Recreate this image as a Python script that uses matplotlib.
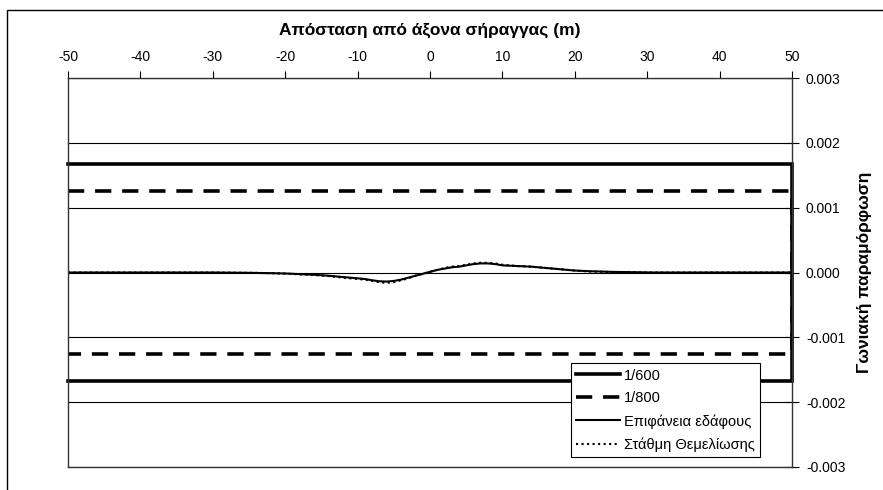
import matplotlib.pyplot as plt
from matplotlib.patches import Rectangle

plt.rcParams['font.family'] = ['Liberation Sans', 'DejaVu Sans']
plt.rcParams['axes.unicode_minus'] = False

# orio gwniakis paramorfwsis
lim_600 = 1 / 600
lim_800 = 1 / 800
box_x = [-50, 50, 50, -50]

# apostasi apo axona (m) kai gwniaki paramorfwsi (x1e-3)
x_surf = [-50, -40, -30, -25, -22, -20, -18, -16, -14, -12, -10, -9, -8, -7, -6, -5, -4, -3, -2, -1,
          0, 1, 2, 3, 4, 5, 6, 7, 8, 9, 10, 12, 14, 16, 18, 20, 22, 25, 28, 31, 35, 40, 50]
y_surf = [0, 0, 0, -0.005, -0.01, -0.015, -0.025, -0.035, -0.05, -0.07, -0.09, -0.1, -0.12, -0.135,
          -0.14, -0.13, -0.11, -0.08, -0.05, -0.02, 0.01, 0.04, 0.06, 0.08, 0.09, 0.11, 0.13, 0.14,
          0.14, 0.13, 0.11, 0.1, 0.09, 0.07, 0.05, 0.03, 0.02, 0.01, 0.005, 0, 0, 0, 0]
y_found = [0, 0, 0, -0.005, -0.01, -0.018, -0.028, -0.04, -0.055, -0.08, -0.1, -0.11, -0.13, -0.15,
           -0.16, -0.15, -0.12, -0.09, -0.05, -0.02, 0.01, 0.04, 0.07, 0.09, 0.1, 0.12, 0.14, 0.15,
           0.15, 0.14, 0.12, 0.1, 0.09, 0.07, 0.05, 0.03, 0.015, 0.008, 0.004, 0, 0, 0, 0]

fig = plt.figure(figsize=(8.83, 4.9), dpi=100)
ax = fig.add_axes([68 / 883, 1 - 467 / 490, 724 / 883, 389 / 490])

# plaisio ths eikonas
fig.patches.append(Rectangle((6.5 / 883, -0.1), 1.1, 1.1 - 10 / 490, transform=fig.transFigure,
                             fill=False, edgecolor='black', lw=1.0))

ax.plot(box_x, [lim_600, lim_600, -lim_600, -lim_600], color='black', lw=2.6, label='1/600',
        clip_on=False, solid_joinstyle='miter')
ax.plot(box_x, [lim_800, lim_800, -lim_800, -lim_800], color='black', lw=2.6, dashes=(4.5, 3),
        label='1/800')
ax.plot(x_surf, [v / 1000 for v in y_surf], color='black', lw=1.5, label='Επιφάνεια εδάφους')
ax.plot(x_surf, [v / 1000 for v in y_found], color='black', lw=1.5, ls=':',
        label='Στάθμη Θεμελίωσης')

ax.set_xlim(-50, 50)
ax.set_ylim(-0.003, 0.003)
ax.set_xticks(range(-50, 51, 10))
ax.set_yticks([-0.003, -0.002, -0.001, 0, 0.001, 0.002, 0.003])
ax.set_yticklabels(['-0.003', '-0.002', '-0.001', '0.000', '0.001', '0.002', '0.003'])
ax.grid(axis='y', color='black', lw=0.8)
ax.set_axisbelow(True)

ax.xaxis.tick_top()
ax.xaxis.set_label_position('top')
ax.yaxis.tick_right()
ax.yaxis.set_label_position('right')
ax.tick_params(axis='x', direction='out', length=5, width=0.8, labelsize=10, pad=5)
ax.tick_params(axis='y', direction='inout', length=10, width=0.8, labelsize=10, pad=5)
for s in ax.spines.values():
    s.set_linewidth(1.0)
    s.set_color('#333333')

ax.set_xlabel('Απόσταση από άξονα σήραγγας (m)', fontsize=12.5, fontweight='bold', labelpad=11)
ax.set_ylabel('Γωνιακή παραμόρφωση', fontsize=12.5, fontweight='bold', rotation=90, labelpad=8)

leg = ax.legend(loc='lower right', bbox_to_anchor=(0.956, 0.026), fontsize=10.5, handlelength=3.0,
                labelspacing=0.6, fancybox=False, framealpha=1, borderpad=0.35, handletextpad=0.3,
                borderaxespad=0)
leg.get_frame().set_edgecolor('black')
leg.get_frame().set_linewidth(0.8)

fig.savefig('out.png', dpi=100)
